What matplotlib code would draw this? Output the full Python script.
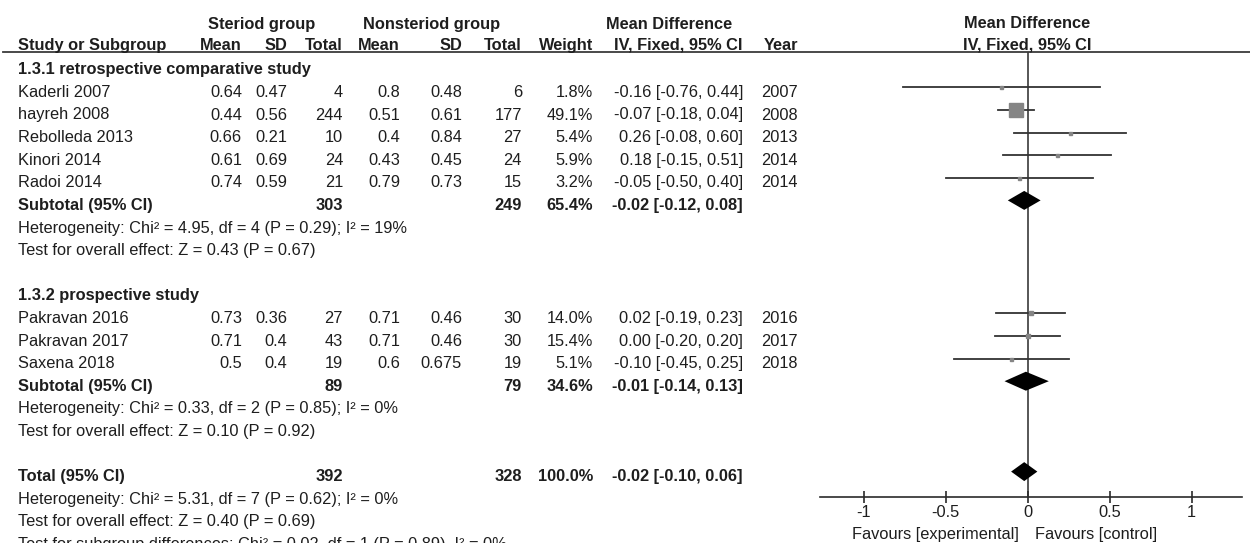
import numpy as np
import matplotlib.pyplot as plt
from matplotlib.lines import Line2D

plt.rcParams['font.family'] = ['Liberation Sans', 'DejaVu Sans']

# study data
studies = ["Kaderli 2007", "hayreh 2008", "Rebolleda 2013", "Kinori 2014", "Radoi 2014",
           "Pakravan 2016", "Pakravan 2017", "Saxena 2018"]
years = [2007, 2008, 2013, 2014, 2014, 2016, 2017, 2018]
ster_mean = [0.64, 0.44, 0.66, 0.61, 0.74, 0.73, 0.71, 0.5]
ster_sd = [0.47, 0.56, 0.21, 0.69, 0.59, 0.36, 0.4, 0.4]
ster_n = [4, 244, 10, 24, 21, 27, 43, 19]
non_mean = [0.8, 0.51, 0.4, 0.43, 0.79, 0.71, 0.71, 0.6]
non_sd = [0.48, 0.61, 0.84, 0.45, 0.73, 0.46, 0.46, 0.675]
non_n = [6, 177, 27, 24, 15, 30, 30, 19]
weight = [1.8, 49.1, 5.4, 5.9, 3.2, 14.0, 15.4, 5.1]
md = [-0.16, -0.07, 0.26, 0.18, -0.05, 0.02, 0.00, -0.10]
lo = [-0.76, -0.18, -0.08, -0.15, -0.50, -0.19, -0.20, -0.45]
hi = [0.44, 0.04, 0.60, 0.51, 0.40, 0.23, 0.20, 0.25]
study_rows = [1, 2, 3, 4, 5, 11, 12, 13]

# subtotals / total
sub_names = ["Subtotal (95% CI)", "Subtotal (95% CI)", "Total (95% CI)"]
sub_ster_n = [303, 89, 392]
sub_non_n = [249, 79, 328]
sub_weight = [65.4, 34.6, 100.0]
sub_md = [-0.02, -0.01, -0.02]
sub_lo = [-0.12, -0.14, -0.10]
sub_hi = [0.08, 0.13, 0.06]
sub_rows = [6, 14, 18]

group_titles = ["1.3.1 retrospective comparative study", "1.3.2 prospective study"]
group_rows = [0, 10]
notes = ["Heterogeneity: Chi² = 4.95, df = 4 (P = 0.29); I² = 19%",
         "Test for overall effect: Z = 0.43 (P = 0.67)",
         "Heterogeneity: Chi² = 0.33, df = 2 (P = 0.85); I² = 0%",
         "Test for overall effect: Z = 0.10 (P = 0.92)",
         "Heterogeneity: Chi² = 5.31, df = 7 (P = 0.62); I² = 0%",
         "Test for overall effect: Z = 0.40 (P = 0.69)",
         "Test for subgroup differences: Chi² = 0.02, df = 1 (P = 0.89), I² = 0%"]
note_rows = [7, 8, 15, 16, 19, 20, 21]

W, H = 1250, 543
fig = plt.figure(figsize=(W / 100, H / 100), dpi=100)
ax = fig.add_axes([0, 0, 1, 1])
ax.set_xlim(0, W)
ax.set_ylim(H, 0)
ax.axis('off')

FS = 11.8
TC = '#1e1e1e'


def ry(i):
    return 64.8 + 22.6 * i


def txt(x, i, s, ha='right', bold=False, y=None):
    yy = ry(i) + 9.5 if y is None else y
    ax.text(x, yy, s, ha=ha, va='baseline', fontsize=FS, color=TC,
            fontweight='bold' if bold else 'normal')


# header
txt(262, 0, "Steriod group", ha='center', bold=True, y=29)
txt(432, 0, "Nonsteriod group", ha='center', bold=True, y=29)
txt(669, 0, "Mean Difference", ha='center', bold=True, y=29)
txt(1027, 0, "Mean Difference", ha='center', bold=True, y=28)
hy = 50
txt(18, 0, "Study or Subgroup", ha='left', bold=True, y=hy)
for x, s in zip([242, 287, 343, 400, 462, 522, 593, 743, 798, 1027],
                ["Mean", "SD", "Total", "Mean", "SD", "Total", "Weight",
                 "IV, Fixed, 95% CI", "Year", "IV, Fixed, 95% CI"]):
    txt(x, 0, s, ha='center' if x == 1027 else 'right', bold=True, y=hy)
ax.add_line(Line2D([3, W], [52, 52], color='#3a3a3a', lw=1.3))

for t, r in zip(group_titles, group_rows):
    txt(18, r, t, ha='left', bold=True)

for k, r in enumerate(study_rows):
    txt(18, r, studies[k], ha='left')
    txt(242, r, f"{ster_mean[k]:g}")
    txt(287, r, f"{ster_sd[k]:g}")
    txt(343, r, f"{ster_n[k]}")
    txt(400, r, f"{non_mean[k]:g}")
    txt(462, r, f"{non_sd[k]:g}")
    txt(522, r, f"{non_n[k]}")
    txt(593, r, f"{weight[k]:.1f}%")
    txt(743, r, f"{md[k]:.2f} [{lo[k]:.2f}, {hi[k]:.2f}]")
    txt(798, r, f"{years[k]}")

for k, r in enumerate(sub_rows):
    txt(18, r, sub_names[k], ha='left', bold=True)
    txt(343, r, f"{sub_ster_n[k]}", bold=True)
    txt(522, r, f"{sub_non_n[k]}", bold=True)
    txt(593, r, f"{sub_weight[k]:.1f}%", bold=True)
    txt(743, r, f"{sub_md[k]:.2f} [{sub_lo[k]:.2f}, {sub_hi[k]:.2f}]", bold=True)

for s, r in zip(notes, note_rows):
    txt(18, r, s, ha='left')

# forest panel
x0, x1 = 820, 1242
zero_px, unit_px = 1027.5, 164.0
y_top, y_bot = 52, 497
fx = fig.add_axes([x0 / W, 1 - y_bot / H, (x1 - x0) / W, (y_bot - y_top) / H])
fx.set_xlim((x0 - zero_px) / unit_px, (x1 - zero_px) / unit_px)
fx.set_ylim((y_bot - 64.8) / 22.6, (y_top - 64.8) / 22.6)
fx.patch.set_alpha(0)
for s in ['top', 'left', 'right']:
    fx.spines[s].set_visible(False)
fx.spines['bottom'].set_color('#2a2a2a')
fx.spines['bottom'].set_linewidth(1.2)
fx.set_yticks([])
fx.set_xticks([-1, -0.5, 0, 0.5, 1])
fx.set_xticklabels(["-1", "-0.5", "0", "0.5", "1"])
fx.tick_params(axis='x', direction='inout', length=9, width=1.2, color='#2a2a2a',
               labelsize=FS, labelcolor=TC, pad=1.5)
fx.axvline(0, color='#3a3a3a', lw=1.2, zorder=1)

for k, r in enumerate(study_rows):
    fx.plot([lo[k], hi[k]], [r, r], color='#333333', lw=1.3, zorder=2)
    side = max(3.0, 13.7 * weight[k] / 49.1)
    fx.plot(md[k], r, marker='s', ms=side * 0.72, color='#858585', mec='#858585', zorder=3)

for k, r in enumerate(sub_rows):
    h = 0.42
    fx.fill([sub_lo[k], sub_md[k], sub_hi[k], sub_md[k]], [r, r - h, r, r + h],
            color='black', zorder=3, lw=0)

ax.text(1019, 539, "Favours [experimental]", ha='right', va='baseline', fontsize=FS, color=TC)
ax.text(1035, 539, "Favours [control]", ha='left', va='baseline', fontsize=FS, color=TC)

fig.savefig("out.png", dpi=100)
